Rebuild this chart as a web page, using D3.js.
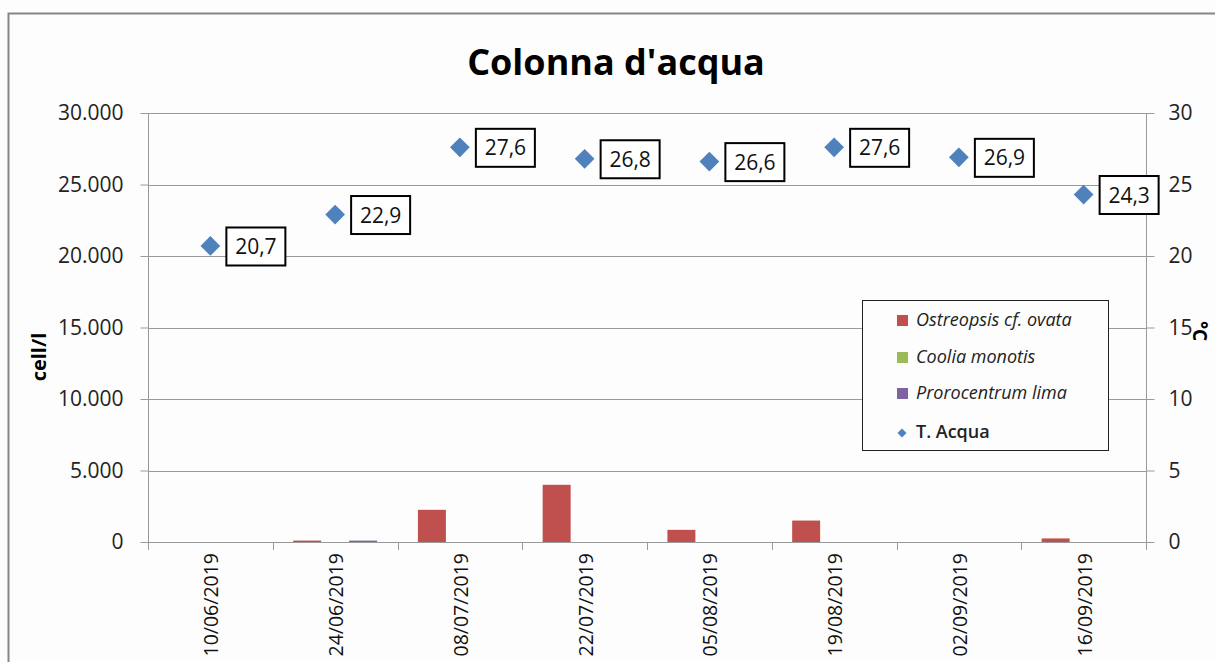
<!DOCTYPE html>
<html><head><meta charset="utf-8">
<script src="https://cdn.jsdelivr.net/npm/d3@7"></script>
<style>
html,body{margin:0;padding:0;background:#fdfdfd;}
svg{display:block;}
text{font-family:"Open Sans",sans-serif;}
</style></head>
<body>
<svg id="chart" width="1215" height="662"></svg>
<script>
const categories = ["10/06/2019","24/06/2019","08/07/2019","22/07/2019","05/08/2019","19/08/2019","02/09/2019","16/09/2019"];
const ostreopsis = [0, 100, 2250, 4000, 850, 1500, 0, 250];
const coolia = [0, 0, 0, 0, 0, 0, 0, 0];
const prorocentrum = [0, 100, 0, 0, 0, 0, 0, 0];
const tAcqua = [20.7, 22.9, 27.6, 26.8, 26.6, 27.6, 26.9, 24.3];
const leftTicks = [0, 5000, 10000, 15000, 20000, 25000, 30000];
const rightTicks = [0, 5, 10, 15, 20, 25, 30];
const seriesNames = ["Ostreopsis cf. ovata", "Coolia monotis", "Prorocentrum lima", "T. Acqua"];
const colors = ["#C0504D", "#9BBB59", "#8064A2", "#4F81BD"];

const loc = d3.formatLocale({decimal:",", thousands:".", grouping:[3], currency:["","€"]});
const fmtL = loc.format(",.0f");
const fmtT = loc.format(".1f");

const svg = d3.select("#chart");
const m = {left:148, right:1146, top:113, bottom:542};

// outer frame
svg.append("rect").attr("x",8.5).attr("y",13.5).attr("width",1250).attr("height",700)
  .attr("fill","#fdfdfd").attr("stroke","#868686").attr("stroke-width",2);

const x = d3.scaleBand().domain(categories).range([m.left, m.right]).paddingInner(0).paddingOuter(0);
const yL = d3.scaleLinear().domain([0,30000]).range([m.bottom, m.top]);
const yR = d3.scaleLinear().domain([0,30]).range([m.bottom, m.top]);

// gridlines
svg.append("g").selectAll("line").data(leftTicks.filter(d=>d>0)).join("line")
  .attr("x1", m.left).attr("x2", m.right)
  .attr("y1", d=>Math.round(yL(d))+0.5).attr("y2", d=>Math.round(yL(d))+0.5)
  .attr("stroke","#9a9a9a").attr("stroke-width",1);

// left axis
const gL = svg.append("g").attr("transform",`translate(${m.left+0.5},0)`)
  .call(d3.axisLeft(yL).tickValues(leftTicks).tickFormat(fmtL).tickSize(8).tickPadding(17));
// right axis
const gR = svg.append("g").attr("transform",`translate(${m.right+0.5},0)`)
  .call(d3.axisRight(yR).tickValues(rightTicks).tickSize(8).tickPadding(14));
[gL,gR].forEach(g=>{
  g.select(".domain").attr("stroke","#9a9a9a").attr("d", `M0,${m.bottom}V${m.top}`);
  g.selectAll(".tick line").attr("stroke","#9a9a9a");
  g.selectAll(".tick text").attr("fill","#222").attr("font-size",21);
});

// x axis
const xb = categories.map(c=>x(c)).concat([m.right]);
svg.append("line").attr("x1",m.left).attr("x2",m.right+8).attr("y1",m.bottom+0.5).attr("y2",m.bottom+0.5).attr("stroke","#9a9a9a");
svg.append("g").selectAll("line").data(xb).join("line")
  .attr("x1",d=>Math.round(d)+0.5).attr("x2",d=>Math.round(d)+0.5)
  .attr("y1",m.bottom).attr("y2",m.bottom+8).attr("stroke","#9a9a9a");
svg.append("g").selectAll("text").data(categories).join("text")
  .attr("transform",d=>`translate(${x(d)+x.bandwidth()/2+8},${m.bottom+11}) rotate(-90)`)
  .attr("text-anchor","end").attr("font-size",19.5).attr("fill","#111").text(d=>d);

// bars
const inner = d3.scaleBand().domain([0,1,2]).range([0, x.bandwidth()]).paddingOuter(0.73).paddingInner(0);
const bars = [ostreopsis, coolia, prorocentrum];
bars.forEach((vals,si)=>{
  svg.append("g").selectAll("rect").data(vals.map((v,i)=>({v,c:categories[i]})).filter(d=>d.v>0)).join("rect")
    .attr("x",d=>x(d.c)+inner(si)).attr("width",inner.bandwidth())
    .attr("y",d=>yL(d.v)).attr("height",d=>yL(0)-yL(d.v))
    .attr("fill",colors[si]);
});

// temperature diamonds + labels
const pts = tAcqua.map((v,i)=>({v,c:categories[i]}));
svg.append("g").selectAll("path").data(pts).join("path")
  .attr("transform",d=>`translate(${x(d.c)+x.bandwidth()/2},${yR(d.v)}) rotate(45)`)
  .attr("d", d3.symbol().type(d3.symbolSquare).size(195)).attr("fill",colors[3]);
const lab = svg.append("g").selectAll("g").data(pts).join("g")
  .attr("transform",d=>`translate(${x(d.c)+x.bandwidth()/2+16},${yR(d.v)})`);
lab.append("rect").attr("x",0).attr("y",-18.5).attr("width",59).attr("height",38)
  .attr("fill","#fff").attr("stroke","#000").attr("stroke-width",2);
lab.append("text").attr("x",29.5).attr("y",8).attr("text-anchor","middle")
  .attr("font-size",21).attr("fill","#111").text(d=>fmtT(d.v));

// title
svg.append("text").attr("x",616).attr("y",75).attr("text-anchor","middle")
  .attr("font-size",36).attr("font-weight","bold").attr("fill","#000").text("Colonna d'acqua");

// axis titles
svg.append("text").attr("transform","translate(46,357) rotate(-90)").attr("text-anchor","middle")
  .attr("font-size",20).attr("font-weight","bold").attr("fill","#000").text("cell/l");
svg.append("text").attr("transform","translate(1193,331) rotate(90)").attr("text-anchor","middle")
  .attr("font-size",19).attr("font-weight","bold").attr("fill","#000").text("°C");

// legend
const lg = svg.append("g");
lg.append("rect").attr("x",862.5).attr("y",300.5).attr("width",246).attr("height",150)
  .attr("fill","#fdfdfd").attr("stroke","#222").attr("stroke-width",1);
const rowsY = [320, 357, 393, 432];
seriesNames.forEach((n,i)=>{
  if(i<3){
    lg.append("rect").attr("x",897).attr("y",rowsY[i]-5).attr("width",11).attr("height",11).attr("fill",colors[i]);
  } else {
    lg.append("path").attr("transform",`translate(902,${rowsY[i]+1}) rotate(45)`)
      .attr("d", d3.symbol().type(d3.symbolSquare).size(40)).attr("fill",colors[i]);
  }
  lg.append("text").attr("x",916).attr("y",rowsY[i]+6).attr("font-size",18)
    .attr("font-style", i<3 ? "italic" : "normal").attr("font-weight", i<3 ? "normal" : "600")
    .attr("fill","#222").text(n);
});
</script>
</body></html>
